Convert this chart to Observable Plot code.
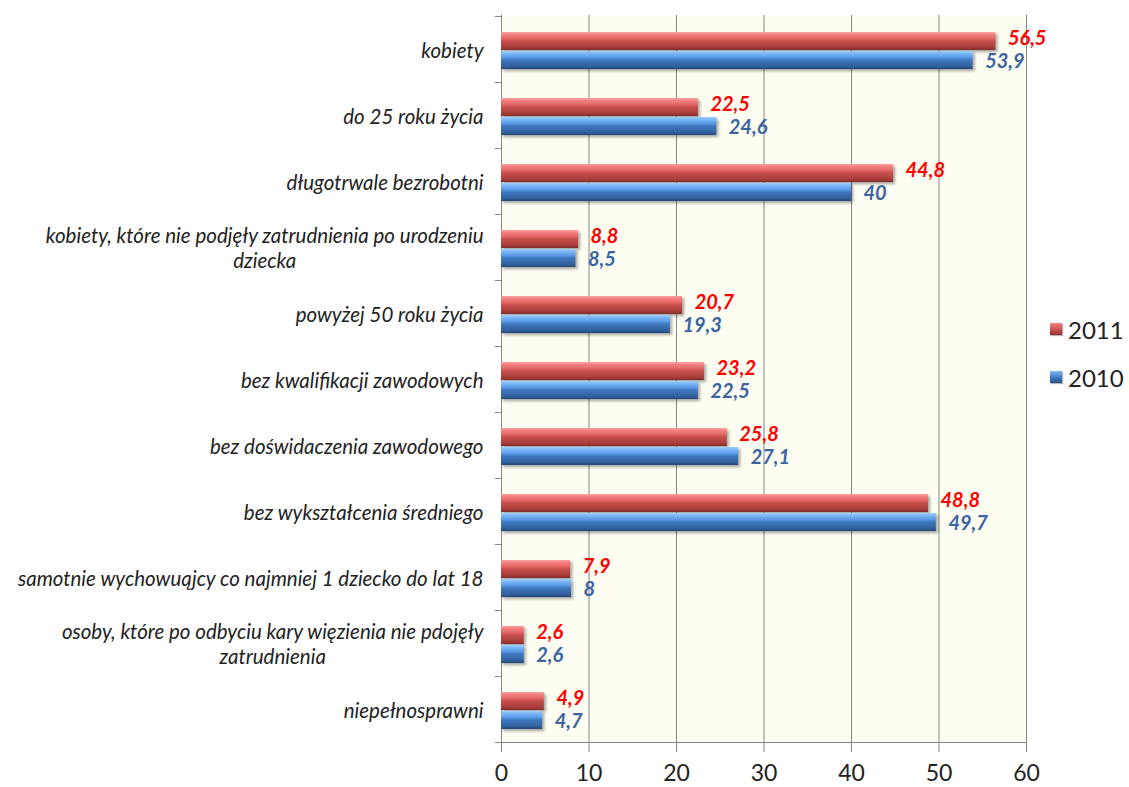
<!DOCTYPE html>
<html>
<head>
<meta charset="utf-8">
<script src="https://cdn.jsdelivr.net/npm/d3@7"></script>
<script src="https://cdn.jsdelivr.net/npm/@observablehq/plot@0.6"></script>
<style>
  body { margin: 0; background: #fff; }
  #wrap { position: relative; width: 1129px; height: 787px; font-family: Lato, "Open Sans", sans-serif; }
  #legend { position: absolute; left: 1050px; top: 316px; font-size: 24px; color: #222; }
  .li { display: flex; align-items: center; height: 26px; margin-bottom: 22px; }
  .sw { width: 12px; height: 12px; margin-right: 6px; box-shadow: 1px 1px 1px rgba(0,0,0,0.3); }
</style>
</head>
<body>
<div id="wrap"><div id="legend"></div></div>
<script>
const categories = [
  "kobiety",
  "do 25 roku życia",
  "długotrwale bezrobotni",
  "kobiety, które nie podjęły zatrudnienia po urodzeniu dziecka",
  "powyżej 50 roku życia",
  "bez kwalifikacji zawodowych",
  "bez doświdaczenia zawodowego",
  "bez wykształcenia średniego",
  "samotnie wychowuąjcy co najmniej 1 dziecko do lat 18",
  "osoby, które po odbyciu kary więzienia nie pdojęły zatrudnienia",
  "niepełnosprawni"
];
const categoryLabels = [
  "kobiety",
  "do 25 roku życia",
  "długotrwale bezrobotni",
  "kobiety, które nie podjęły zatrudnienia po urodzeniu\ndziecka",
  "powyżej 50 roku życia",
  "bez kwalifikacji zawodowych",
  "bez doświdaczenia zawodowego",
  "bez wykształcenia średniego",
  "samotnie wychowuąjcy co najmniej 1 dziecko do lat 18",
  "osoby, które po odbyciu kary więzienia nie pdojęły\nzatrudnienia",
  "niepełnosprawni"
];
const values2011 = [56.5, 22.5, 44.8, 8.8, 20.7, 23.2, 25.8, 48.8, 7.9, 2.6, 4.9];
const values2010 = [53.9, 24.6, 40, 8.5, 19.3, 22.5, 27.1, 49.7, 8, 2.6, 4.7];
const seriesNames = ["2011", "2010"];
const xTicks = [0, 10, 20, 30, 40, 50, 60];

const data2011 = categories.map((c, i) => ({category: c, value: values2011[i]}));
const data2010 = categories.map((c, i) => ({category: c, value: values2010[i]}));
const labelOf = new Map(categories.map((c, i) => [c, categoryLabels[i]]));
const fmt = d => String(d.value).replace(".", ",");

const H = 787, MT = 15, MB = 45;
const half = (H - MT - MB) / categories.length / 2;
const shadow = "drop-shadow(2px 2px 1.5px rgba(0,0,0,0.35))";

const chart = Plot.plot({
  width: 1129,
  height: H,
  marginLeft: 501,
  marginRight: 103,
  marginTop: MT,
  marginBottom: MB,
  style: {fontFamily: "Lato, 'Open Sans', sans-serif", background: "transparent", overflow: "visible"},
  x: {domain: [0, 60], label: null},
  y: {domain: categories, padding: 0, label: null},
  marks: [
    Plot.frame({fill: "#fdfdf2", stroke: null}),
    Plot.ruleX(xTicks.slice(1), {stroke: "#868686", strokeWidth: 1}),
    Plot.frame({anchor: "left", stroke: "#868686"}),
    Plot.frame({anchor: "bottom", stroke: "#868686"}),
    Plot.ruleY(categories, {y: d => d, x1: -0.7, x2: 0, dy: -half, stroke: "#868686"}),
    Plot.ruleY(categories.slice(-1), {y: d => d, x1: -0.7, x2: 0, dy: half, stroke: "#868686"}),
    Plot.barX(data2011, {x: "value", y: "category", fill: "url(#gRed)", insetTop: 16, insetBottom: 32, imageFilter: shadow}),
    Plot.barX(data2010, {x: "value", y: "category", fill: "url(#gBlue)", insetTop: 35, insetBottom: 13, imageFilter: shadow}),
    Plot.text(data2011, {x: "value", y: "category", text: fmt, textAnchor: "start", dx: 12, dy: -11,
      fill: "#ff0000", fontWeight: "bold", fontStyle: "italic", fontSize: 20}),
    Plot.text(data2010, {x: "value", y: "category", text: fmt, textAnchor: "start", dx: 12, dy: 12,
      fill: "#3c64a0", fontWeight: "bold", fontStyle: "italic", fontSize: 20}),
    Plot.axisX({ticks: xTicks, tickSize: 10, tickPadding: 12, fontSize: 23, stroke: "#868686", fill: "#222",
      tickFormat: d => String(d), label: null}),
    Plot.axisY({tickSize: 0, tickPadding: 18, fontSize: 20.5, fontStyle: "italic", fill: "#222", lineHeight: 1.22,
      tickFormat: d => labelOf.get(d), label: null})
  ]
});

// gradients for the bevelled bar look
const svg = d3.select(chart);
const defs = svg.insert("defs", ":first-child");
function grad(id, stops) {
  const g = defs.append("linearGradient").attr("id", id).attr("x1", 0).attr("y1", 0).attr("x2", 0).attr("y2", 1);
  stops.forEach(([o, c]) => g.append("stop").attr("offset", o).attr("stop-color", c));
}
grad("gRed", [[0, "#f9a3a3"], [0.12, "#f58383"], [0.35, "#e46767"], [0.5, "#c8504d"], [0.85, "#a63d3a"], [1, "#7e2b29"]]);
grad("gBlue", [[0, "#9fd0ff"], [0.12, "#7fbaf8"], [0.35, "#5b9be6"], [0.5, "#3f78c0"], [0.85, "#32619d"], [1, "#234675"]]);

const wrap = document.getElementById("wrap");
wrap.insertBefore(chart, wrap.firstChild);

// center continuation lines of multi-line category labels under the first line
chart.querySelectorAll('g[aria-label="y-axis tick label"] text').forEach(t => {
  const spans = t.querySelectorAll("tspan");
  if (spans.length < 2) return;
  const widths = Array.from(spans, s => s.getComputedTextLength());
  const maxW = Math.max(...widths);
  spans.forEach((s, i) => s.setAttribute("x", -(maxW - widths[i]) / 2));
});

// legend
const legend = document.getElementById("legend");
[[seriesNames[0], "linear-gradient(#f58383, #c8504d 55%, #8e302e)"], [seriesNames[1], "linear-gradient(#7fbaf8, #3f78c0 55%, #2a5283)"]]
  .forEach(([name, bg]) => {
    const li = document.createElement("div");
    li.className = "li";
    li.innerHTML = `<div class="sw" style="background:${bg}"></div><span>${name}</span>`;
    legend.appendChild(li);
  });
</script>
</body>
</html>
